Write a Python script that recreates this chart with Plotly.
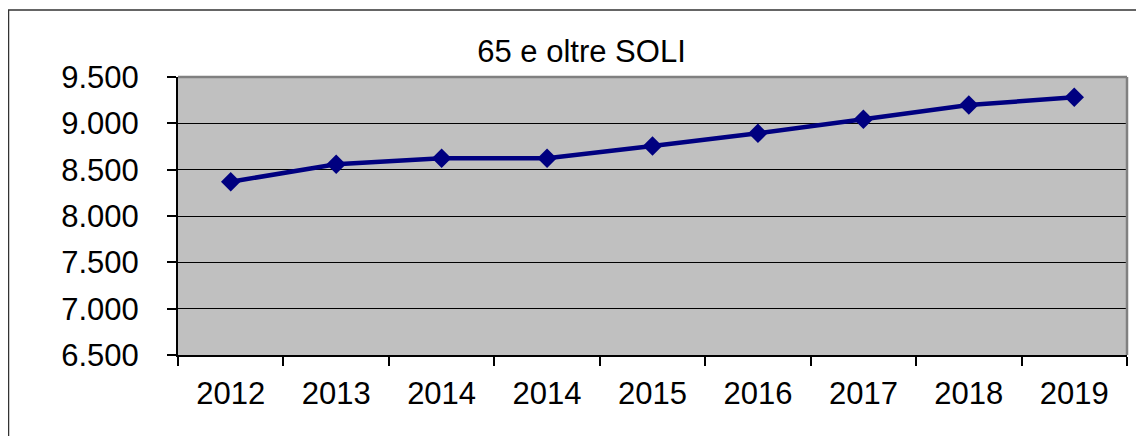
import plotly.graph_objects as go

categories = ["2012", "2013", "2014", "2014", "2015", "2016", "2017", "2018", "2019"]
values = [8370, 8558, 8623, 8623, 8755, 8892, 9044, 9198, 9281]
y_tick_values = [6500, 7000, 7500, 8000, 8500, 9000, 9500]
y_tick_labels = ["6.500", "7.000", "7.500", "8.000", "8.500", "9.000", "9.500"]
title_text = "65 e oltre SOLI"

OFF = 8  # page body margin
W, H = 1144, 436
L, R, T, B = 178 - OFF, 1127 - OFF, 77 - OFF, 355 - OFF

xpos = list(range(len(categories)))

fig = go.Figure()
fig.add_trace(go.Scatter(
    x=xpos, y=values, mode="lines+markers",
    line=dict(color="#000080", width=4.5),
    marker=dict(symbol="diamond", size=15, color="#000080"),
    showlegend=False, hoverinfo="skip",
))

font = dict(family="Liberation Sans, Arial, sans-serif", size=31, color="#000000")

fig.update_layout(
    width=W, height=H,
    margin=dict(l=L, r=W - R, t=T, b=H - B, pad=0),
    paper_bgcolor="white",
    plot_bgcolor="#C0C0C0",
    font=font,
    title=dict(text=title_text, x=(581.5 - OFF) / W, xanchor="center", xref="container",
               y=1 - (51 - OFF) / H, yanchor="middle", yref="container", font=font),
    xaxis=dict(
        range=[-0.5, len(categories) - 0.5],
        tickmode="array", tickvals=xpos, ticktext=categories,
        ticks="", showgrid=False, zeroline=False,
        showline=True, linecolor="#000000", linewidth=1.5,
        ticklabelstandoff=10,
        minor=dict(tickmode="array",
                   tickvals=[i - 0.5 for i in range(len(categories) + 1)],
                   ticks="outside", ticklen=9, tickcolor="#000000", tickwidth=1.5,
                   showgrid=False),
        tickfont=font, fixedrange=True,
    ),
    yaxis=dict(
        range=[6500, 9500],
        tickmode="array", tickvals=y_tick_values, ticktext=y_tick_labels,
        ticks="outside", ticklen=9, tickcolor="#000000", tickwidth=1.5,
        showgrid=True, gridcolor="#000000", gridwidth=1,
        zeroline=False,
        showline=True, linecolor="#000000", linewidth=2,
        ticklabelstandoff=22,
        tickfont=font, fixedrange=True,
    ),
    shapes=[
        # outer chart border
        dict(type="rect", xref="paper", yref="paper",
             x0=(0.5 - L) / (R - L), x1=(1160 - L) / (R - L),
             y0=(B - 445) / (B - T), y1=(B - 2) / (B - T),
             line=dict(color="#333333", width=1.5), layer="below"),
        # plot area top & right border (gray)
        dict(type="line", xref="paper", yref="paper", x0=0, x1=1, y0=1, y1=1,
             line=dict(color="#808080", width=2.5), layer="above"),
        dict(type="line", xref="paper", yref="paper", x0=1, x1=1, y0=0, y1=1,
             line=dict(color="#808080", width=2.5), layer="above"),
    ],
)

fig.write_html("out.html")
